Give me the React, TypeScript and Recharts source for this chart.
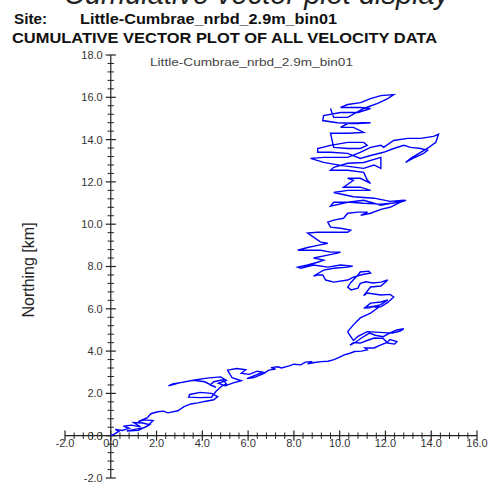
import React from "react";
import { LineChart, Line, XAxis, YAxis, ReferenceLine } from "recharts";

// cumulative track, [easting km, northing km] in order
const trackStart: [number, number][] = [
  [0, 0], [0.15, 0.08], [0.35, 0.2], [0.2, 0.3], [0.5, 0.25], [0.8, 0.35], [0.55, 0.45], [0.9, 0.5],
  [1.3, 0.42], [1.0, 0.62], [1.4, 0.6], [1.7, 0.52], [1.45, 0.38], [1.05, 0.3], [0.7, 0.22], [1.2, 0.25],
  [1.6, 0.45], [1.85, 0.72], [1.45, 0.75], [1.2, 0.66], [1.6, 0.85], [1.75, 1.04],
];
const trackLower: [number, number][] = [
  [2.05, 1.13], [2.3, 1.16], [2.5, 1.08], [2.93, 1.18], [3.2, 1.37], [3.5, 1.5], [3.8, 1.55], [4.1, 1.62], [4.5, 1.7],
  [4.67, 1.85], [4.4, 2.0], [3.9, 2.05], [3.45, 1.95], [3.4, 1.82], [3.9, 1.8], [4.4, 1.82], [4.6, 2.1],
  [4.85, 2.35], [5.05, 2.45], [4.9, 2.64], [4.5, 2.55], [4.35, 2.4], [4.6, 2.28], [4.1, 2.55], [3.6, 2.62],
  [3.1, 2.52], [2.7, 2.45], [2.52, 2.36], [3.0, 2.5], [3.6, 2.62], [4.2, 2.72], [4.8, 2.78], [5.05, 2.62],
  [4.7, 2.48], [5.0, 2.36], [5.35, 2.5], [5.7, 2.6], [5.3, 2.74], [5.1, 3.1], [5.5, 3.18], [5.9, 3.12],
  [5.7, 2.95], [6.05, 2.9], [6.4, 3.05], [6.65, 3.0], [6.3, 2.85], [5.95, 2.7], [6.25, 2.75], [6.7, 2.95],
];
const trackEast: [number, number][] = [
  [6.9, 3.1], [7.2, 3.15], [7.0, 3.22], [7.3, 3.26], [7.45, 3.2], [7.8, 3.3], [8.0, 3.38], [8.3, 3.35],
  [8.5, 3.48], [8.8, 3.5], [8.6, 3.4], [8.9, 3.46], [9.2, 3.5], [9.5, 3.52], [9.75, 3.6], [10.0, 3.72],
  [10.2, 3.82], [10.45, 3.9], [10.65, 3.98], [10.95, 4.0], [11.2, 4.06], [11.1, 4.15], [11.5, 4.15], [11.8, 4.29],
  [12.05, 4.4], [12.2, 4.55], [12.5, 4.45], [12.4, 4.33], [12.1, 4.38], [11.9, 4.6], [11.5, 4.62], [11.2, 4.5],
  [10.9, 4.38], [10.6, 4.4], [10.45, 4.28], [10.7, 4.42], [10.95, 4.62], [11.3, 4.85], [11.55, 4.75], [11.9, 4.68],
  [12.2, 4.86], [12.5, 5.0], [12.8, 5.06], [12.65, 4.95], [12.3, 4.85], [11.2, 4.92], [10.8, 4.7], [10.6, 4.5],
  [10.4, 4.82], [10.35, 4.92],
];
const trackMiddle: [number, number][] = [
  [10.6, 5.24], [10.9, 5.57], [11.35, 5.8], [11.66, 6.04], [11.5, 6.1], [11.14, 6.09], [11.35, 6.27], [11.8, 6.32],
  [12.1, 6.42], [11.8, 6.2], [11.3, 6.05], [11.05, 6.04], [11.5, 6.12], [11.8, 6.09], [12.1, 6.3], [12.36, 6.56],
  [12.2, 6.68], [11.8, 6.65], [11.2, 6.75], [11.05, 6.62], [11.35, 7.03], [11.8, 7.08], [12.1, 7.36], [11.8, 7.26],
  [11.45, 7.22], [11.14, 7.28], [10.9, 7.2], [10.8, 6.98], [10.5, 6.89], [10.35, 7.03], [10.5, 7.26], [10.8, 7.6],
  [10.9, 7.74], [11.27, 7.78], [11.35, 7.69], [11.0, 7.62], [10.6, 7.5], [10.35, 7.36], [9.74, 7.26], [9.39, 7.36],
  [9.26, 7.6], [9.04, 7.6], [8.86, 7.55], [9.3, 7.83], [9.74, 7.92], [10.35, 7.97], [10.57, 8.02], [10.04, 8.07],
  [9.48, 7.97], [8.86, 8.07], [8.3, 7.92], [8.17, 7.97], [8.6, 8.07], [9.04, 8.2], [9.3, 8.3], [8.86, 8.4],
  [9.48, 8.54], [9.9, 8.63], [10.04, 8.68], [9.6, 8.68], [9.17, 8.77], [8.6, 8.77], [8.17, 8.77], [8.6, 8.9],
  [9.04, 9.0], [9.48, 9.1], [9.17, 9.15], [8.73, 9.48], [8.6, 9.58], [9.04, 9.62], [9.6, 9.62], [10.35, 9.62],
  [10.48, 9.72], [10.04, 9.81], [9.6, 9.86], [9.48, 10.1], [9.74, 10.19], [10.17, 10.28], [10.35, 10.52], [10.8, 10.57],
  [11.22, 10.57], [10.92, 10.42], [11.35, 10.52], [11.8, 10.7], [12.2, 10.8], [12.66, 11.04], [12.9, 11.13],
];
const trackUpper: [number, number][] = [
  [12.36, 11.0], [11.8, 10.95], [11.05, 10.99], [10.48, 11.04], [9.74, 11.04], [9.6, 10.85], [10.35, 11.04], [11.05, 11.13],
  [11.8, 10.9], [12.4, 11.02], [12.8, 11.13], [12.2, 11.08], [11.5, 11.23], [10.6, 11.3], [9.74, 11.5], [10.35, 11.6],
  [11.35, 11.6], [10.9, 11.75], [10.17, 11.75], [10.6, 12.08], [10.35, 12.17], [10.9, 12.17], [11.35, 11.93], [11.2, 12.1],
  [11.05, 12.45], [10.35, 12.55], [9.6, 12.55], [9.74, 12.69], [10.35, 12.88], [11.05, 12.92], [11.8, 13.16], [11.8, 12.64],
  [11.5, 12.8], [11.05, 12.64], [10.04, 12.78], [9.3, 12.92], [8.73, 13.11], [9.3, 13.16], [10.35, 13.16], [10.9, 13.4],
  [11.35, 13.63], [11.8, 13.73], [11.92, 13.63], [12.36, 13.96], [12.97, 14.06], [13.54, 14.06], [14.1, 14.15], [14.32, 14.25],
  [14.2, 13.87], [13.9, 13.63], [13.54, 13.4], [13.1, 13.11], [12.88, 12.92], [13.2, 13.11], [13.67, 13.35], [13.84, 13.49],
  [13.54, 13.58], [13.1, 13.63], [12.8, 13.73], [12.36, 13.58], [11.92, 13.4], [11.35, 13.25], [10.9, 13.11], [10.35, 13.35],
  [9.6, 13.4], [9.04, 13.4], [9.04, 13.58], [9.6, 13.73], [10.35, 13.87], [11.05, 13.87], [11.2, 13.73], [10.9, 13.58],
  [10.35, 13.58], [9.74, 13.63],
];
const trackTop: [number, number][] = [
  [9.6, 14.3], [10.35, 14.3], [11.05, 14.34], [10.6, 14.58], [10.04, 14.58], [10.35, 14.76], [11.05, 14.8], [11.35, 14.8],
  [10.8, 14.76], [9.9, 14.8], [9.26, 14.9], [9.3, 15.14], [10.04, 15.28], [10.8, 15.28], [11.35, 15.47], [10.92, 15.52],
  [10.04, 15.52], [10.35, 15.66], [10.92, 15.75], [11.35, 15.94], [11.8, 16.08], [12.36, 16.13], [12.1, 15.94], [11.66, 15.71],
  [11.05, 15.47], [10.35, 15.05], [9.74, 15.05], [9.6, 15.47],
];

const xMajor = [-2, 0, 2, 4, 6, 8, 10, 12, 14, 16];
const yMajor = [-2, 0, 2, 4, 6, 8, 10, 12, 14, 16, 18];

const pageHeading = "Cumulative vector plot display";
const siteName = "Little-Cumbrae_nrbd_2.9m_bin01";
const plotTitle = "CUMULATIVE VECTOR PLOT OF ALL VELOCITY DATA";

const FONT = "'Liberation Sans', Arial, sans-serif";
const AXIS = "#222";

// 4 minor ticks between each pair of major ticks
function minors(major: number[]) {
  const out: number[] = [];
  for (let i = 0; i < major.length - 1; i++) {
    const step = (major[i + 1] - major[i]) / 5;
    for (let k = 1; k < 5; k++) out.push(major[i] + step * k);
  }
  return out;
}

export default function App() {
  const data = [...trackStart, ...trackLower, ...trackEast, ...trackMiddle, ...trackUpper, ...trackTop].map(
    ([e, n]) => ({ e, n })
  );
  const lbl = { fill: "#333", fontSize: 11, fontFamily: FONT };

  return (
    <div style={{ position: "absolute", left: 0, top: 0, width: 490, height: 483, background: "#fff" }}>
      <LineChart width={490} height={483} data={data} margin={{ top: 55, right: 13, bottom: 5, left: 65 }}>
        <XAxis type="number" dataKey="e" domain={[-2, 16]} hide allowDataOverflow />
        <YAxis type="number" domain={[-2, 18]} hide allowDataOverflow />

        <ReferenceLine x={0} stroke={AXIS} strokeWidth={1.2} />
        <ReferenceLine y={0} stroke={AXIS} strokeWidth={1.2} />

        {minors(xMajor).map((t) => (
          <ReferenceLine key={"xm" + t} segment={[{ x: t, y: -0.15 }, { x: t, y: 0.15 }]} stroke={AXIS} strokeWidth={1} />
        ))}
        {minors(yMajor).map((t) => (
          <ReferenceLine key={"ym" + t} segment={[{ x: -0.14, y: t }, { x: 0.14, y: t }]} stroke={AXIS} strokeWidth={1} />
        ))}
        {xMajor.map((t) => (
          <ReferenceLine
            key={"x" + t}
            segment={[{ x: t, y: -0.24 }, { x: t, y: 0.24 }]}
            stroke={AXIS}
            strokeWidth={1.2}
            label={{ value: t.toFixed(1), position: "bottom", offset: -2, ...lbl }}
          />
        ))}
        {yMajor.map((t) => (
          <ReferenceLine
            key={"y" + t}
            segment={[{ x: -0.22, y: t }, { x: 0.22, y: t }]}
            stroke={AXIS}
            strokeWidth={1.2}
            label={{ value: t.toFixed(1), position: "left", offset: 3, ...lbl }}
          />
        ))}

        <Line
          dataKey="n"
          type="linear"
          stroke="#0000ff"
          strokeWidth={1.4}
          dot={false}
          activeDot={false}
          isAnimationActive={false}
        />
      </LineChart>

      <svg width={490} height={483} style={{ position: "absolute", left: 0, top: 0, pointerEvents: "none" }}>
        <text x={64} y={4} fontFamily={FONT} fontStyle="italic" fontSize={29} fill="#222">
          {pageHeading}
        </text>
        <text x={14} y={24} fontFamily={FONT} fontWeight="bold" fontSize={14} fill="#111" textLength={33} lengthAdjust="spacingAndGlyphs">
          Site:
        </text>
        <text x={80} y={24} fontFamily={FONT} fontWeight="bold" fontSize={14} fill="#111" textLength={257} lengthAdjust="spacingAndGlyphs">
          {siteName}
        </text>
        <text x={12} y={43} fontFamily={FONT} fontWeight="bold" fontSize={15} fill="#111" textLength={425} lengthAdjust="spacingAndGlyphs">
          {plotTitle}
        </text>
        <text x={150} y={66} fontFamily={FONT} fontSize={11} fill="#444" textLength={203} lengthAdjust="spacingAndGlyphs">
          {siteName}
        </text>
        <text
          x={28}
          y={270}
          transform="rotate(-90 28 270)"
          textAnchor="middle"
          dominantBaseline="central"
          fontFamily={FONT}
          fontSize={16}
          fill="#222"
        >
          Northing [km]
        </text>
      </svg>
    </div>
  );
}
